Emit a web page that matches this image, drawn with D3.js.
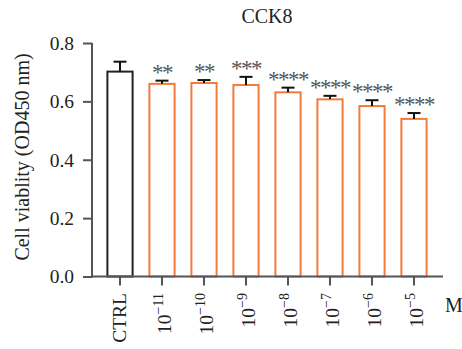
<!DOCTYPE html>
<html>
<head>
<meta charset="utf-8">
<script src="https://cdn.jsdelivr.net/npm/d3@7"></script>
<style>
  html, body { margin: 0; padding: 0; background: #fff; }
  svg { display: block; font-family: "Liberation Serif", "Times New Roman", serif; }
</style>
</head>
<body>
<svg id="chart" width="462" height="349"></svg>
<script>
// Groups: control plus concentration series (exponent of 10, mol/L)
const groups = ["CTRL", "-11", "-10", "-9", "-8", "-7", "-6", "-5"];
const means = [0.702, 0.660, 0.663, 0.656, 0.631, 0.607, 0.584, 0.540];
const errors = [0.034, 0.011, 0.010, 0.028, 0.016, 0.012, 0.020, 0.020];
const stars = ["", "**", "**", "***", "****", "****", "****", "****"];
const yTicks = [0.0, 0.2, 0.4, 0.6, 0.8];

const svg = d3.select("#chart");
const axisColor = "#555";
const orange = "#f47a3a";

const y = d3.scaleLinear().domain([0, 0.8]).range([276.5, 43]);
const x = d3.scaleBand().domain(groups).range([99, 435])
  .paddingInner(0.4).paddingOuter(0.2);

// Bars
svg.append("g").selectAll("rect").data(groups).join("rect")
  .attr("x", d => x(d))
  .attr("y", (d, i) => y(means[i]))
  .attr("width", x.bandwidth())
  .attr("height", (d, i) => y(0) - y(means[i]))
  .attr("fill", "#fff")
  .attr("stroke", (d, i) => i === 0 ? "#222" : orange)
  .attr("stroke-width", 2);

// Error bars (upper whisker only)
const eb = svg.append("g").attr("stroke", "#111").attr("stroke-width", 2);
groups.forEach((g, i) => {
  const cx = x(g) + x.bandwidth() / 2;
  eb.append("line").attr("x1", cx).attr("x2", cx)
    .attr("y1", y(means[i])).attr("y2", y(means[i] + errors[i]));
  eb.append("line").attr("x1", cx - 6.5).attr("x2", cx + 6.5)
    .attr("y1", y(means[i] + errors[i])).attr("y2", y(means[i] + errors[i]));
});

// Significance marks
svg.append("g").selectAll("text").data(groups).join("text")
  .attr("x", d => x(d) + x.bandwidth() / 2)
  .attr("y", (d, i) => y(means[i] + errors[i]) - 1)
  .attr("text-anchor", "middle")
  .attr("font-size", 23)
  .attr("letter-spacing", -1.5)
  .attr("fill", "#555")
  .text((d, i) => stars[i]);

// Y axis
const yAxis = svg.append("g").attr("transform", "translate(92,0)")
  .call(d3.axisLeft(y).tickValues(yTicks).tickFormat(d3.format(".1f"))
    .tickSize(9).tickPadding(9));
yAxis.select(".domain").attr("stroke", axisColor).attr("stroke-width", 2)
  .attr("d", `M0,${y(0.8)}V${y(0) + 1}`);
yAxis.selectAll(".tick line").attr("stroke", axisColor).attr("stroke-width", 2);
yAxis.selectAll(".tick text").attr("font-size", 19.5)
  .attr("font-family", "Liberation Serif, serif").attr("fill", "#222");

// X axis
const xAxis = svg.append("g").attr("transform", `translate(0,${y(0)})`)
  .call(d3.axisBottom(x).tickSize(9).tickFormat(""));
xAxis.select(".domain").attr("stroke", axisColor).attr("stroke-width", 2)
  .attr("d", "M91,0H443");
xAxis.selectAll(".tick line").attr("stroke", axisColor).attr("stroke-width", 2);

// X tick labels, rotated, with powers of ten as superscripts
const labels = svg.append("g").attr("fill", "#222").attr("font-size", 19.5);
groups.forEach(g => {
  const cx = x(g) + x.bandwidth() / 2;
  const t = labels.append("text")
    .attr("transform", `translate(${cx},293) rotate(-90)`)
    .attr("text-anchor", "end");
  if (g === "CTRL") {
    t.attr("dy", "0.33em").text("CTRL");
  } else {
    t.attr("dy", "0.47em");
    t.append("tspan").text("10");
    t.append("tspan").attr("font-size", 14).attr("dy", -8)
      .text("\u2212" + g.slice(1));
  }
});

// Unit label
svg.append("text").attr("x", 445).attr("y", 312)
  .attr("font-size", 20).attr("fill", "#222").text("M");

// Title
svg.append("text").attr("x", 267).attr("y", 23)
  .attr("text-anchor", "middle").attr("font-size", 20).attr("fill", "#222")
  .text("CCK8");

// Y axis title
svg.append("text")
  .attr("transform", "translate(22,157) rotate(-90)")
  .attr("text-anchor", "middle").attr("dy", "0.35em")
  .attr("font-size", 20).attr("fill", "#222")
  .text("Cell viablity (OD450 nm)");
</script>
</body>
</html>
